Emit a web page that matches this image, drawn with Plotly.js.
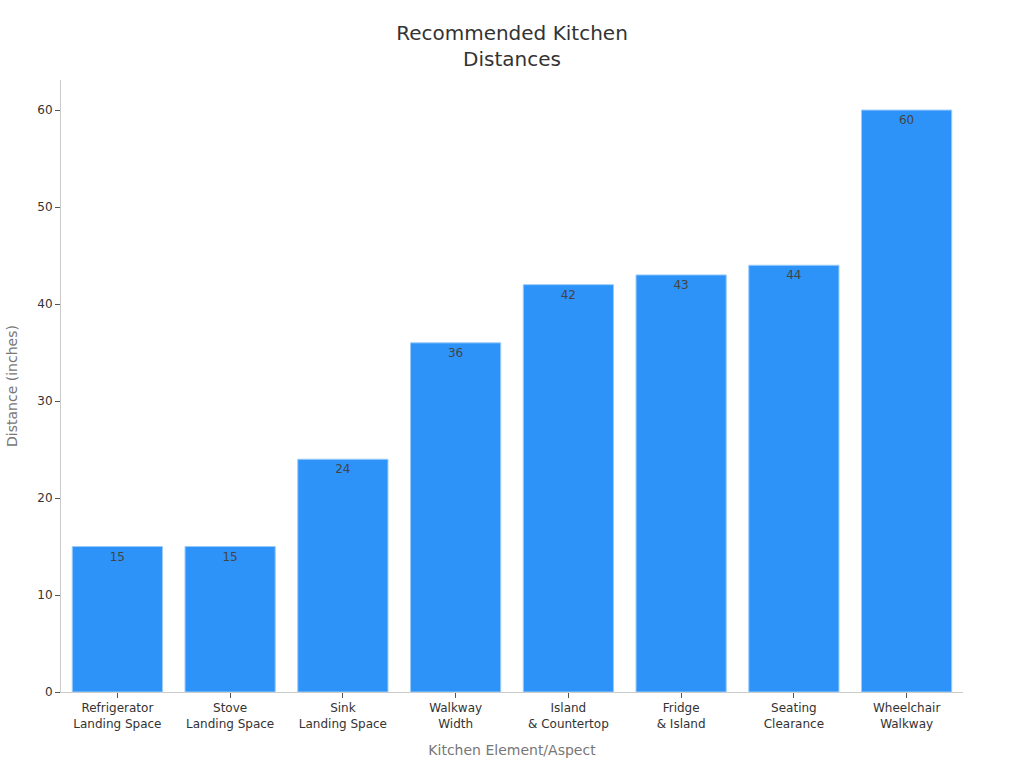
<!DOCTYPE html>
<html>
<head>
<meta charset="utf-8">
<script src="https://cdn.plot.ly/plotly-3.0.1.min.js"></script>
<style>html,body{margin:0;padding:0;background:#fff;}#chart{width:1024px;height:768px;}</style>
</head>
<body>
<div id="chart"></div>
<script>
var categories = ["Refrigerator<br>Landing Space", "Stove<br>Landing Space", "Sink<br>Landing Space", "Walkway<br>Width", "Island<br>& Countertop", "Fridge<br>& Island", "Seating<br>Clearance", "Wheelchair<br>Walkway"];
var distances = [15, 15, 24, 36, 42, 43, 44, 60];
var chartTitle = "Recommended Kitchen<br>Distances";
var xTitle = "Kitchen Element/Aspect";
var yTitle = "Distance (inches)";

var font = "DejaVu Sans, Verdana, sans-serif";
Plotly.newPlot("chart", [{
  type: "bar",
  x: categories,
  y: distances,
  text: distances.map(String),
  textposition: "inside",
  insidetextanchor: "end",
  textfont: {family: font, size: 12, color: "#444444"},
  marker: {color: "#2E93F8", line: {color: "#9ACBFA", width: 1}},
  hoverinfo: "x+y"
}], {
  width: 1024, height: 768,
  font: {family: font, color: "#333333"},
  paper_bgcolor: "#ffffff",
  plot_bgcolor: "#ffffff",
  margin: {l: 61, r: 61, t: 80, b: 76},
  bargap: 0.2,
  title: {text: chartTitle, x: 0.5, xanchor: "center", y: 0.948, yanchor: "top", font: {family: font, size: 20, color: "#333333"}},
  xaxis: {
    title: {text: xTitle, font: {family: font, size: 14, color: "#777777"}, standoff: 15},
    tickfont: {family: font, size: 12, color: "#333333"},
    showline: true, linecolor: "#cccccc", linewidth: 1,
    ticks: "outside", ticklen: 5, tickcolor: "#555555",
    showgrid: false
  },
  yaxis: {
    title: {text: yTitle, font: {family: font, size: 14, color: "#777777"}, standoff: 16},
    tickfont: {family: font, size: 12, color: "#333333"},
    range: [0, 63.1],
    dtick: 10,
    showline: true, linecolor: "#cccccc", linewidth: 1,
    ticks: "outside", ticklen: 5, tickcolor: "#555555",
    showgrid: false, zeroline: false
  },
  showlegend: false
}, {displayModeBar: false, staticPlot: true});
</script>
</body>
</html>
